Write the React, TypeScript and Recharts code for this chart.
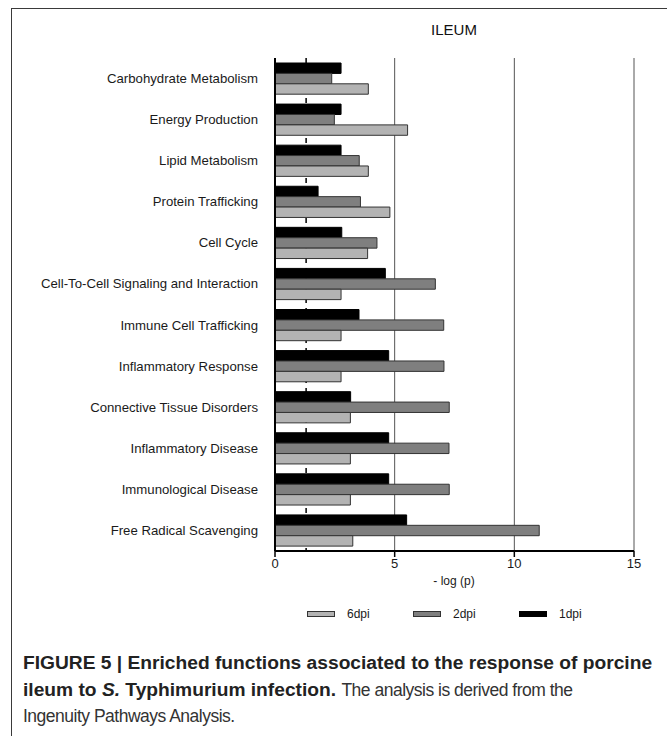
import React from 'react';
import { BarChart, Bar, XAxis, YAxis, CartesianGrid } from 'recharts';

const categories = [
  'Carbohydrate Metabolism',
  'Energy Production',
  'Lipid Metabolism',
  'Protein Trafficking',
  'Cell Cycle',
  'Cell-To-Cell Signaling and Interaction',
  'Immune Cell Trafficking',
  'Inflammatory Response',
  'Connective Tissue Disorders',
  'Inflammatory Disease',
  'Immunological Disease',
  'Free Radical Scavenging',
];
const dpi1 = [2.76, 2.76, 2.76, 1.8, 2.79, 4.61, 3.51, 4.75, 3.16, 4.75, 4.75, 5.5];
const dpi2 = [2.37, 2.48, 3.52, 3.57, 4.26, 6.7, 7.05, 7.06, 7.28, 7.27, 7.28, 11.04];
const dpi6 = [3.9, 5.54, 3.9, 4.8, 3.87, 2.76, 2.76, 2.76, 3.15, 3.15, 3.15, 3.25];
const xTicks = [0, 5, 10, 15];
const xDomain = [0, 15];
const threshold = 1.3;

const data = categories.map((name, i) => ({
  name,
  d1: dpi1[i],
  d2: dpi2[i],
  d6: dpi6[i],
}));

const FONT = '"Liberation Sans", Arial, Helvetica, sans-serif';

const legendItems = [
  { label: '6dpi', fill: '#b3b3b3', stroke: '#333' },
  { label: '2dpi', fill: '#7f7f7f', stroke: '#333' },
  { label: '1dpi', fill: '#000', stroke: '#000' },
];

const YTick = (props: any) => {
  const { x, y, payload } = props;
  return (
    <text
      x={x}
      y={y}
      dy={4.5}
      textAnchor="end"
      fontSize={13.2}
      fill="#1a1a1a"
      fontFamily={FONT}
    >
      {payload.value}
    </text>
  );
};

const thresholdLine = (props: any) => {
  const { xAxis, offset } = props;
  if (xAxis && typeof xAxis.scale === 'function') {
    const v = xAxis.scale(threshold);
    if (typeof v === 'number' && !isNaN(v)) return [v];
  }
  return [offset.left + ((threshold - xDomain[0]) / (xDomain[1] - xDomain[0])) * offset.width];
};

const normalStyle: React.CSSProperties = {
  fontWeight: 'normal',
  fontSize: 17.5,
  letterSpacing: '-0.5px',
  color: '#333',
};

export default function App() {
  return (
    <div
      style={{
        position: 'absolute',
        left: 0,
        top: 0,
        width: 667,
        height: 736,
        overflow: 'hidden',
        background: '#fff',
        fontFamily: FONT,
      }}
    >
      <div
        style={{
          position: 'absolute',
          left: 11,
          top: 8,
          width: 720,
          height: 800,
          borderTop: '1.5px solid #3a3a3a',
          borderLeft: '1.5px solid #3a3a3a',
        }}
      />
      <div
        style={{
          position: 'absolute',
          left: 354,
          width: 200,
          top: 21,
          textAlign: 'center',
          fontSize: 15,
          color: '#111',
        }}
      >
        ILEUM
      </div>
      <div style={{ position: 'absolute', left: 0, top: 0 }}>
        <BarChart
          width={667}
          height={600}
          data={data}
          layout="vertical"
          margin={{ top: 58, right: 33, bottom: 0, left: 0 }}
          barSize={10.4}
          barGap={0}
        >
          <CartesianGrid horizontal={false} stroke="#555" strokeWidth={1} />
          <CartesianGrid
            horizontal={false}
            verticalCoordinatesGenerator={thresholdLine}
            stroke="#000"
            strokeWidth={1.5}
            strokeDasharray="5 5"
          />
          <XAxis
            type="number"
            domain={xDomain}
            ticks={xTicks}
            interval={0}
            height={49}
            axisLine={{ stroke: '#000', strokeWidth: 2 }}
            tickLine={{ stroke: '#000', strokeWidth: 1.5 }}
            tickSize={6}
            tick={{ fontSize: 13, fill: '#1a1a1a', fontFamily: FONT }}
          />
          <YAxis
            type="category"
            dataKey="name"
            width={275}
            tickLine={false}
            tickSize={0}
            tickMargin={17}
            interval={0}
            axisLine={{ stroke: '#000', strokeWidth: 2 }}
            tick={<YTick />}
          />
          <Bar
            dataKey="d1"
            fill="#000"
            stroke="#000"
            strokeWidth={1}
            isAnimationActive={false}
          />
          <Bar
            dataKey="d2"
            fill="#7f7f7f"
            stroke="#333"
            strokeWidth={1}
            isAnimationActive={false}
          />
          <Bar
            dataKey="d6"
            fill="#b3b3b3"
            stroke="#333"
            strokeWidth={1}
            isAnimationActive={false}
          />
        </BarChart>
      </div>
      <div
        style={{
          position: 'absolute',
          left: 354,
          width: 200,
          top: 574,
          textAlign: 'center',
          fontSize: 12,
          color: '#1a1a1a',
        }}
      >
        - log (p)
      </div>
      {legendItems.map((it, i) => (
        <div
          key={it.label}
          style={{
            position: 'absolute',
            left: 307 + i * 106,
            top: 607,
            display: 'flex',
            alignItems: 'center',
            fontSize: 12,
            color: '#1a1a1a',
          }}
        >
          <div
            style={{
              width: 26,
              height: 4,
              background: it.fill,
              border: `1px solid ${it.stroke}`,
              marginRight: 12,
            }}
          />
          <span>{it.label}</span>
        </div>
      ))}
      <div
        style={{
          position: 'absolute',
          left: 23,
          top: 650,
          width: 660,
          fontSize: 19.2,
          lineHeight: '26.5px',
          color: '#222',
          whiteSpace: 'nowrap',
          fontWeight: 'bold',
        }}
      >
        FIGURE 5 | Enriched functions associated to the response of porcine
        <br />
        ileum to <i>S.</i> Typhimurium infection.{' '}
        <span style={normalStyle}>The analysis is derived from the</span>
        <br />
        <span style={normalStyle}>Ingenuity Pathways Analysis.</span>
      </div>
    </div>
  );
}
